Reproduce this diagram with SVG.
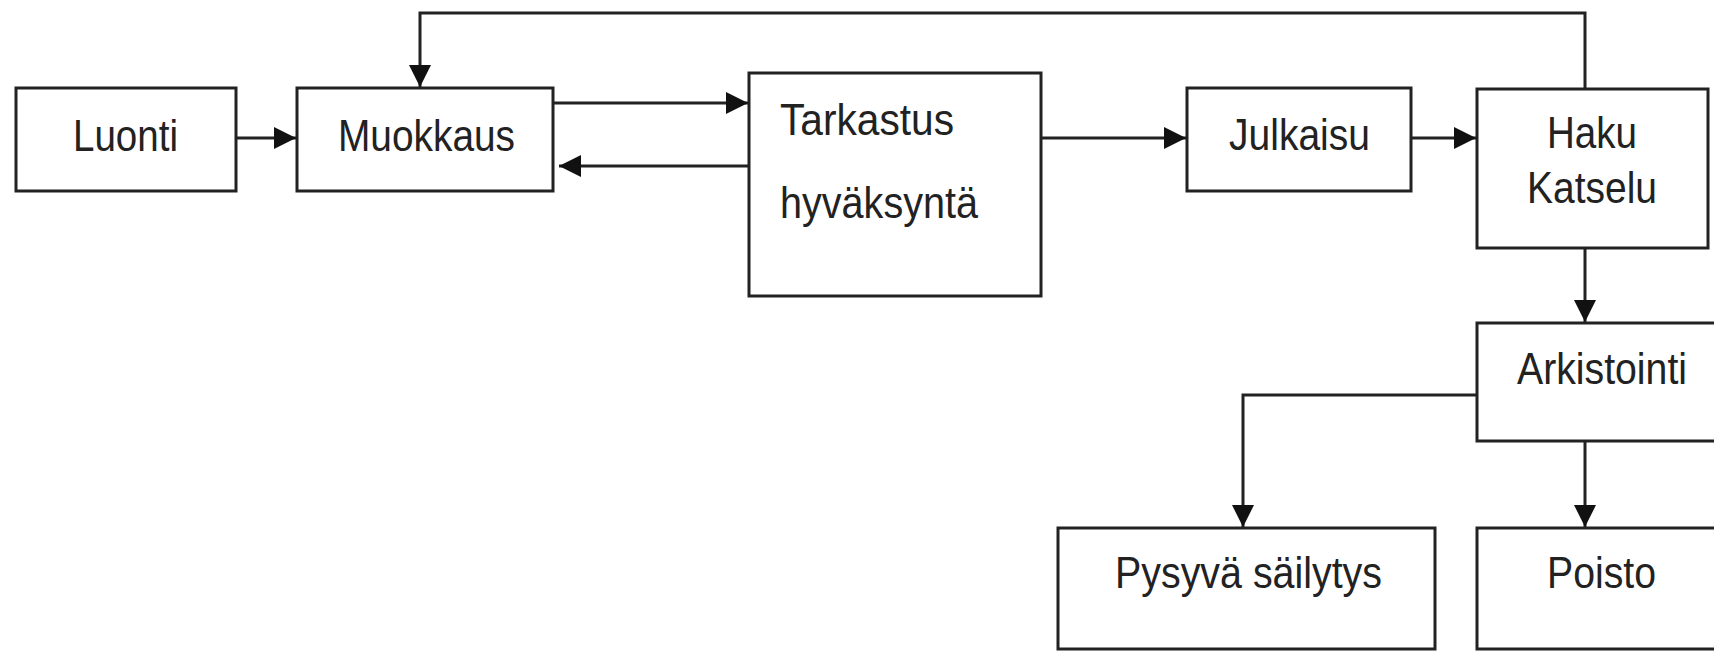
<svg xmlns="http://www.w3.org/2000/svg" width="1714" height="652" viewBox="0 0 1714 652">
<style>
.box{fill:#fff;stroke:#222;stroke-width:3}
.lbl{font-family:"Liberation Sans",Arial,sans-serif;font-size:44px;fill:#222}
.con{fill:none;stroke:#222;stroke-width:3}
</style>
<defs>
<marker id="arr" markerUnits="userSpaceOnUse" markerWidth="23" markerHeight="24" refX="22" refY="12" orient="auto">
<path d="M0,1 L22,12 L0,23 z" fill="#111"/>
</marker>
</defs>
<rect width="1714" height="652" fill="#fff"/>
<g id="connectors">
<line class="con" x1="236" y1="138" x2="296" y2="138" marker-end="url(#arr)"/>
<line class="con" x1="553" y1="103" x2="748" y2="103" marker-end="url(#arr)"/>
<line class="con" x1="749" y1="166" x2="559" y2="166" marker-end="url(#arr)"/>
<line class="con" x1="1041" y1="138" x2="1186" y2="138" marker-end="url(#arr)"/>
<line class="con" x1="1411" y1="138" x2="1476" y2="138" marker-end="url(#arr)"/>
<polyline class="con" points="1585,89 1585,13 420,13 420,87" marker-end="url(#arr)"/>
<line class="con" x1="1585" y1="248" x2="1585" y2="322" marker-end="url(#arr)"/>
<polyline class="con" points="1477,395 1243,395 1243,527" marker-end="url(#arr)"/>
<line class="con" x1="1585" y1="441" x2="1585" y2="527" marker-end="url(#arr)"/>
</g>
<g id="luonti">
<rect class="box" x="16" y="88" width="220" height="103"/>
<text class="lbl" x="73" y="151" textLength="105" lengthAdjust="spacingAndGlyphs">Luonti</text>
</g>
<g id="muokkaus">
<rect class="box" x="297" y="88" width="256" height="103"/>
<text class="lbl" x="338" y="151" textLength="177" lengthAdjust="spacingAndGlyphs">Muokkaus</text>
</g>
<g id="tarkastus">
<rect class="box" x="749" y="73" width="292" height="223"/>
<text class="lbl" x="780" y="135" textLength="174" lengthAdjust="spacingAndGlyphs">Tarkastus</text>
<text class="lbl" x="780" y="218" textLength="198" lengthAdjust="spacingAndGlyphs">hyväksyntä</text>
</g>
<g id="julkaisu">
<rect class="box" x="1187" y="88" width="224" height="103"/>
<text class="lbl" x="1229" y="150" textLength="141" lengthAdjust="spacingAndGlyphs">Julkaisu</text>
</g>
<g id="haku">
<rect class="box" x="1477" y="89" width="231" height="159"/>
<text class="lbl" x="1547" y="148" textLength="90" lengthAdjust="spacingAndGlyphs">Haku</text>
<text class="lbl" x="1527" y="203" textLength="130" lengthAdjust="spacingAndGlyphs">Katselu</text>
</g>
<g id="arkistointi">
<rect class="box" x="1477" y="323" width="250" height="118"/>
<text class="lbl" x="1517" y="384" textLength="170" lengthAdjust="spacingAndGlyphs">Arkistointi</text>
</g>
<g id="pysyva">
<rect class="box" x="1058" y="528" width="377" height="121"/>
<text class="lbl" x="1115" y="588" textLength="267" lengthAdjust="spacingAndGlyphs">Pysyvä säilytys</text>
</g>
<g id="poisto">
<rect class="box" x="1477" y="528" width="250" height="121"/>
<text class="lbl" x="1547" y="588" textLength="109" lengthAdjust="spacingAndGlyphs">Poisto</text>
</g>
</svg>
